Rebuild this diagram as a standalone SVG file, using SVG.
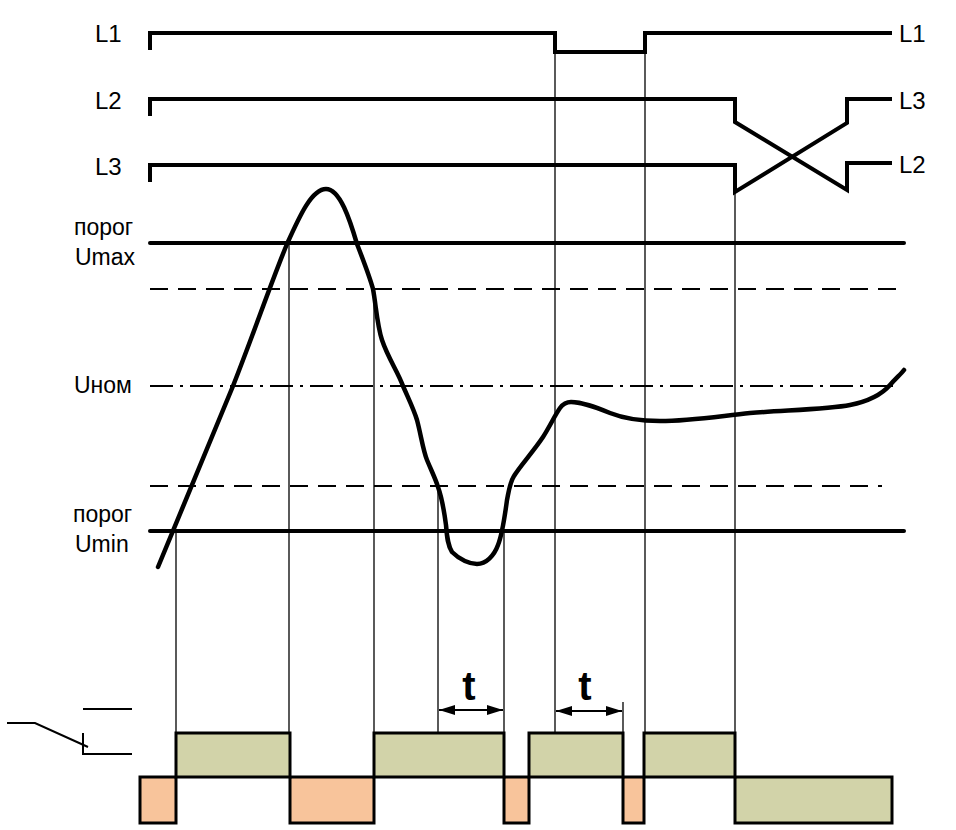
<svg xmlns="http://www.w3.org/2000/svg" width="956" height="830" viewBox="0 0 956 830">
<style>
.bg{fill:#ffffff}
.thick{fill:none;stroke:#000;stroke-width:4;stroke-linejoin:miter;stroke-linecap:butt}
.thr{fill:none;stroke:#000;stroke-width:4;stroke-linecap:round}
.dash{fill:none;stroke:#000;stroke-width:2;stroke-dasharray:18 10}
.dashdot{fill:none;stroke:#000;stroke-width:2;stroke-dasharray:23 7 3 7}
.curve{fill:none;stroke:#000;stroke-width:4.5;stroke-linecap:round;stroke-linejoin:round}
.thin{fill:none;stroke:#000;stroke-width:1.3}
.sw{fill:none;stroke:#000;stroke-width:2}
.on{fill:#d2d3a9;stroke:#000;stroke-width:3}
.off{fill:#f8c49b;stroke:#000;stroke-width:3}
.lbl{font-family:"Liberation Sans",Arial,sans-serif;font-size:24px;fill:#000}
.sm{font-family:"Liberation Sans",Arial,sans-serif;font-size:23px;fill:#000}
.t{font-family:"Liberation Sans",Arial,sans-serif;font-size:40px;font-weight:bold;fill:#000;text-anchor:middle}
</style>
<defs>
<marker id="ah" viewBox="0 0 16 10" refX="16" refY="5" markerWidth="16" markerHeight="10" markerUnits="userSpaceOnUse" orient="auto-start-reverse">
<path d="M0,0 L16,5 L0,10 Z" fill="#000"/>
</marker>
</defs>
<rect class="bg" x="0" y="0" width="956" height="830"/>

<g id="phase-L1">
<path class="thick" d="M150,50 L150,33 L555,33 L555,52 L645,52 L645,33 L892,33"/>
<text class="lbl" x="95" y="42">L1</text>
<text class="lbl" x="899" y="42">L1</text>
</g>
<g id="phase-L2">
<path class="thick" d="M150,116 L150,99 L735,99 L735,122 L847,190 L847,163 L892,163"/>
<text class="lbl" x="95" y="109">L2</text>
<text class="lbl" x="899" y="173">L2</text>
</g>
<g id="phase-L3">
<path class="thick" d="M150,182 L150,165 L735,165 L735,192 L847,123 L847,99 L892,99"/>
<text class="lbl" x="95" y="175">L3</text>
<text class="lbl" x="899" y="109">L3</text>
</g>

<g id="threshold-umax">
<line class="thr" x1="150" y1="243" x2="904" y2="243"/>
<text class="sm" x="74" y="235">порог</text>
<text class="sm" x="75" y="265">Umax</text>
</g>
<g id="hyst-upper">
<line class="dash" x1="150" y1="289" x2="905" y2="289"/>
</g>
<g id="nominal">
<line class="dashdot" x1="150" y1="386" x2="900" y2="386"/>
<text class="sm" x="74" y="393">Uном</text>
</g>
<g id="hyst-lower">
<line class="dash" x1="150" y1="486" x2="882" y2="486"/>
</g>
<g id="threshold-umin">
<line class="thr" x1="150" y1="531" x2="904" y2="531"/>
<text class="sm" x="73" y="522">порог</text>
<text class="sm" x="75" y="552">Umin</text>
</g>

<g id="voltage-curve">
<path class="curve" d="M158,567 L233,386 C255,330 272,280 287,244 C300,215 312,189 326,189 C340,189 350,220 357,244 C364,262 370,278 373,289 C376,305 377,325 382,340 C388,358 398,372 403,386 C410,402 414,410 417,420 C421,435 423,450 427,460 C432,472 436,480 438,487 C442,498 444,510 446,525 C447,538 448,546 452,552 C460,560 470,564 477,564 C486,564 494,556 498,545 C502,535 505,515 507,500 C509,490 510,482 514,476 C520,466 533,452 543,437 C550,426 555,415 560,408 C563,404 566,402 571,402 C582,402 595,407 610,413 C625,419 640,421 660,421 C690,421 720,416 750,413 C790,410 830,409 850,405 C870,401 883,393 890,385 C896,378 901,374 904,370"/>
</g>

<g id="connectors">
<line class="thin" x1="176" y1="531" x2="176" y2="733"/>
<line class="thin" x1="289" y1="243" x2="289" y2="733"/>
<line class="thin" x1="374" y1="289" x2="374" y2="733"/>
<line class="thin" x1="438" y1="487" x2="438" y2="733"/>
<line class="thin" x1="504" y1="531" x2="504" y2="733"/>
<line class="thin" x1="555" y1="52" x2="555" y2="733"/>
<line class="thin" x1="623" y1="702" x2="623" y2="733"/>
<line class="thin" x1="645" y1="52" x2="645" y2="733"/>
<line class="thin" x1="735" y1="192" x2="735" y2="733"/>
<line class="sw" x1="439" y1="710" x2="503" y2="710" marker-start="url(#ah)" marker-end="url(#ah)"/>
<line class="sw" x1="556" y1="711" x2="622" y2="711" marker-start="url(#ah)" marker-end="url(#ah)"/>
</g>

<g id="delay-labels">
<text class="t" x="469" y="700">t</text>
<text class="t" x="585" y="700">t</text>
</g>

<g id="relay-symbol">
<path class="sw" d="M7,723 L35,723 L88,747"/>
<path class="sw" d="M83,733 L83,754 L132,754"/>
<line class="sw" x1="83" y1="709" x2="132" y2="709"/>
</g>

<g id="relay-states">
<rect class="off" x="140" y="777" width="36" height="46"/>
<rect class="off" x="290" y="777" width="84" height="46"/>
<rect class="off" x="504" y="777" width="25" height="46"/>
<rect class="off" x="623" y="777" width="21" height="46"/>
<rect class="on" x="735" y="777" width="157" height="46"/>
<rect class="on" x="176" y="733" width="114" height="44"/>
<rect class="on" x="374" y="733" width="130" height="44"/>
<rect class="on" x="529" y="733" width="94" height="44"/>
<rect class="on" x="644" y="733" width="91" height="44"/>
</g>
</svg>
